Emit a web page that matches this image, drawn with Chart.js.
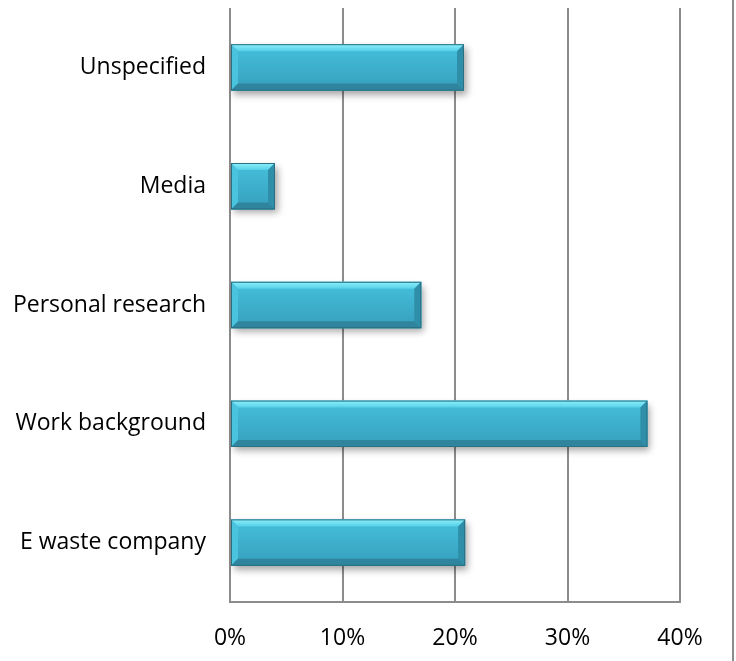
<!DOCTYPE html>
<html>
<head>
<meta charset="utf-8">
<script src="https://cdn.jsdelivr.net/npm/chart.js@4/dist/chart.umd.min.js"></script>
<style>
  html, body { margin: 0; padding: 0; background: #fff; }
  #wrap { position: relative; width: 736px; height: 661px; }
</style>
</head>
<body>
<div id="wrap"><canvas id="c" width="736" height="661"></canvas></div>
<script>
// Source of knowledge about e-waste, share of respondents
const categories = ['Unspecified', 'Media', 'Personal research', 'Work background', 'E waste company'];
const shares = [20.8, 4.0, 17.0, 37.1, 20.9];
const tickValues = [0, 10, 20, 30, 40];

const FONT = '"Open Sans", Lato, sans-serif';

// Bevelled cyan bars: soft drop shadow underneath, light top edge, dark bottom edge
const bevelBars = {
  id: 'bevelBars',
  beforeDatasetsDraw(chart) {
    const ctx = chart.ctx;
    chart.getDatasetMeta(0).data.forEach(bar => {
      const { x, y, base, height } = bar.getProps(['x', 'y', 'base', 'height'], true);
      ctx.save();
      ctx.shadowColor = 'rgba(0,0,0,0.35)';
      ctx.shadowBlur = 7;
      ctx.shadowOffsetX = 3;
      ctx.shadowOffsetY = 4;
      ctx.fillStyle = '#3aaecb';
      ctx.fillRect(base, y - height / 2, x - base, height);
      ctx.restore();
    });
  },
  afterDatasetsDraw(chart) {
    const ctx = chart.ctx;
    chart.getDatasetMeta(0).data.forEach(bar => {
      const { x, y, base, height } = bar.getProps(['x', 'y', 'base', 'height'], true);
      const l = base, r = x, t = y - height / 2, b = y + height / 2;
      const e = Math.min(7, (r - l) / 3);
      ctx.save();
      // face
      const g = ctx.createLinearGradient(0, t, 0, b);
      g.addColorStop(0, '#45c0dc');
      g.addColorStop(1, '#369fbd');
      ctx.fillStyle = g;
      ctx.fillRect(l, t, r - l, b - t);
      // top bevel
      const gt = ctx.createLinearGradient(0, t, 0, t + e);
      gt.addColorStop(0, '#8ef0fb');
      gt.addColorStop(1, '#55d0e8');
      ctx.fillStyle = gt;
      ctx.beginPath();
      ctx.moveTo(l, t); ctx.lineTo(r, t); ctx.lineTo(r - e, t + e); ctx.lineTo(l + e, t + e);
      ctx.closePath(); ctx.fill();
      // left bevel
      ctx.fillStyle = '#49c3de';
      ctx.beginPath();
      ctx.moveTo(l, t); ctx.lineTo(l + e, t + e); ctx.lineTo(l + e, b - e); ctx.lineTo(l, b);
      ctx.closePath(); ctx.fill();
      // right bevel
      ctx.fillStyle = '#2f8fa9';
      ctx.beginPath();
      ctx.moveTo(r, t); ctx.lineTo(r, b); ctx.lineTo(r - e, b - e); ctx.lineTo(r - e, t + e);
      ctx.closePath(); ctx.fill();
      // bottom bevel
      ctx.fillStyle = '#2f859d';
      ctx.beginPath();
      ctx.moveTo(l, b); ctx.lineTo(r, b); ctx.lineTo(r - e, b - e); ctx.lineTo(l + e, b - e);
      ctx.closePath(); ctx.fill();
      // outline
      ctx.strokeStyle = '#2a6f82';
      ctx.lineWidth = 1;
      ctx.strokeRect(l + 0.5, t + 0.5, r - l - 1, b - t - 1);
      ctx.restore();
    });
  }
};

// Thin frame line along the right edge of the picture
const rightFrame = {
  id: 'rightFrame',
  afterDraw(chart) {
    const ctx = chart.ctx;
    ctx.save();
    ctx.strokeStyle = '#8c8c8c';
    ctx.lineWidth = 2;
    ctx.beginPath();
    ctx.moveTo(733, 0);
    ctx.lineTo(733, chart.height);
    ctx.stroke();
    ctx.restore();
  }
};

new Chart(document.getElementById('c'), {
  type: 'bar',
  data: {
    labels: categories,
    datasets: [{
      data: shares,
      backgroundColor: 'rgba(0,0,0,0)',
      borderWidth: 0,
      barPercentage: 0.62,
      categoryPercentage: 0.63
    }]
  },
  options: {
    indexAxis: 'y',
    responsive: false,
    animation: false,
    devicePixelRatio: 1,
    layout: { padding: { top: 8, right: 56, left: 0, bottom: 0 } },
    plugins: { legend: { display: false }, tooltip: { enabled: false } },
    scales: {
      x: {
        min: 0,
        max: 40,
        afterBuildTicks(scale) { scale.ticks = tickValues.map(v => ({ value: v })); },
        afterFit(scale) { scale.height = 59; },
        grid: { color: '#8c8c8c', lineWidth: 2, drawTicks: false },
        border: { display: true, color: '#8c8c8c', width: 2 },
        ticks: {
          padding: 23,
          color: '#000',
          font: { family: FONT, size: 23 },
          callback: v => v + '%'
        }
      },
      y: {
        afterFit(scale) {
          scale.width = 230;
          scale.paddingTop = 0;
          scale.paddingBottom = 0;
        },
        grid: { display: false, drawTicks: false },
        border: { display: false },
        ticks: {
          padding: 24,
          color: '#000',
          font: { family: FONT, size: 23 }
        }
      }
    }
  },
  plugins: [bevelBars, rightFrame]
});
</script>
</body>
</html>
